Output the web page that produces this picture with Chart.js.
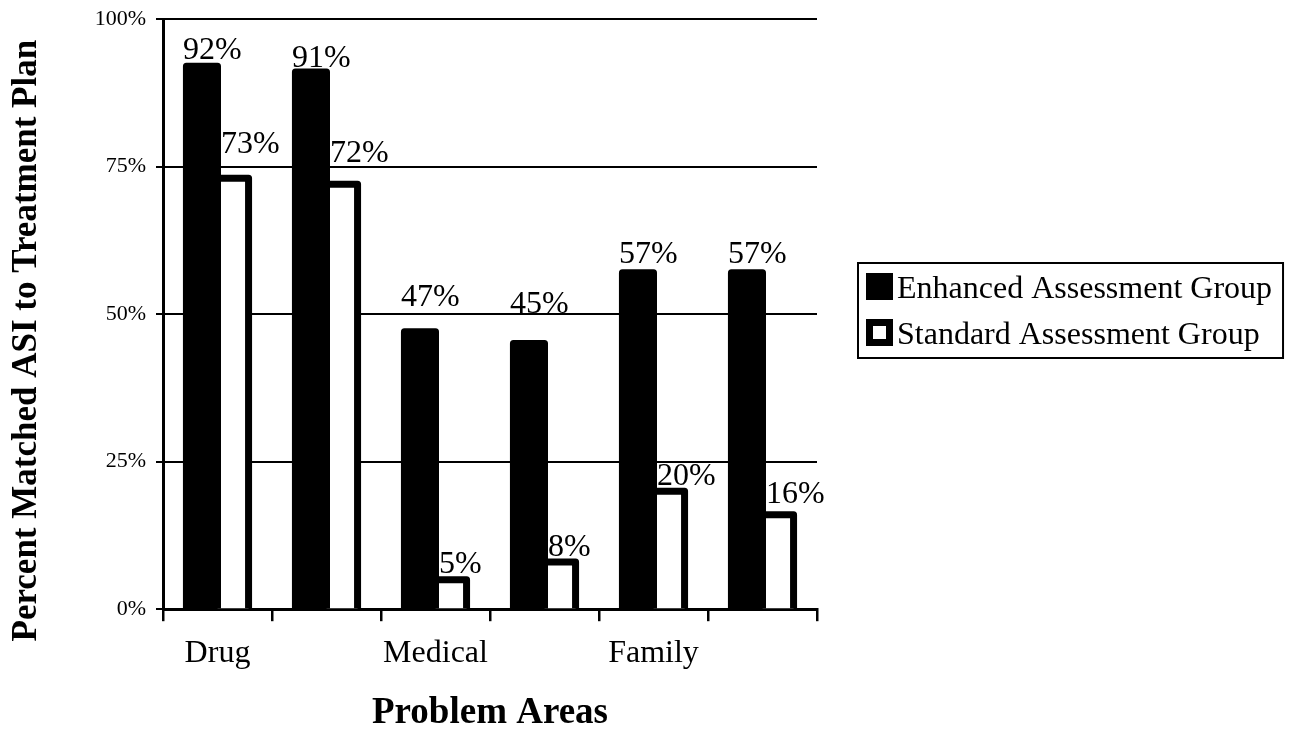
<!DOCTYPE html>
<html>
<head>
<meta charset="utf-8">
<title>Percent Matched ASI to Treatment Plan</title>
<script src="https://cdn.jsdelivr.net/npm/chart.js@4.4.1/dist/chart.umd.min.js"></script>
<style>
  html, body { margin: 0; padding: 0; background: #ffffff; }
  canvas { display: block; }
</style>
</head>
<body>
<canvas id="chart" width="1295" height="739"></canvas>
<script>
// ---- chart data ----
const categories = ['Drug', '', 'Medical', '', 'Family', ''];
const enhancedValues = [92, 91, 47, 45, 57, 57];
const standardValues = [73, 72, 5, 8, 20, 16];
const yTickValues = [0, 25, 50, 75, 100];
const seriesNames = ['Enhanced Assessment Group', 'Standard Assessment Group'];

// gap (px) between the top of each bar and the baseline of its value label
const enhancedLabelLift = [4, 2, 22, 27, 6, 6];
const standardLabelLift = [22, 19, 3, 2, 3, 8];

// ---- styling ----
const SERIF = "'Liberation Serif', 'Times New Roman', serif";
const OUTLINE = 7;          // bar outline, centred on the bar edges
const INK = '#000000';

// Outlines every bar (left, top, right edges) and writes its value above it.
const barDecor = {
  id: 'barDecor',
  afterDatasetsDraw(chart) {
    const ctx = chart.ctx;
    ctx.save();
    ctx.strokeStyle = INK;
    ctx.lineWidth = OUTLINE;
    ctx.lineJoin = 'round';
    ctx.lineCap = 'butt';
    chart.data.datasets.forEach((ds, di) => {
      chart.getDatasetMeta(di).data.forEach(bar => {
        const p = bar.getProps(['x', 'y', 'base', 'width'], true);
        const l = p.x - p.width / 2, r = p.x + p.width / 2;
        ctx.beginPath();
        ctx.moveTo(l, p.base);
        ctx.lineTo(l, p.y);
        ctx.lineTo(r, p.y);
        ctx.lineTo(r, p.base);
        ctx.stroke();
      });
    });
    ctx.fillStyle = INK;
    ctx.font = '32px ' + SERIF;
    ctx.textAlign = 'left';
    ctx.textBaseline = 'alphabetic';
    chart.data.datasets.forEach((ds, di) => {
      chart.getDatasetMeta(di).data.forEach((bar, i) => {
        const p = bar.getProps(['x', 'y', 'width'], true);
        const left = p.x - p.width / 2 + ds.labelInset;
        const top = p.y - OUTLINE / 2;
        ctx.fillText(ds.data[i] + '%', left, top - ds.labelLift[i]);
      });
    });
    ctx.restore();
  }
};

// Rotated y-axis title and the boxed legend on the right.
const frameText = {
  id: 'frameText',
  afterDraw(chart) {
    const ctx = chart.ctx;
    const area = chart.chartArea;

    // y-axis title
    ctx.save();
    ctx.fillStyle = INK;
    ctx.font = 'bold 35px ' + SERIF;
    ctx.textAlign = 'center';
    ctx.textBaseline = 'alphabetic';
    ctx.translate(36, area.top + (area.bottom - area.top) * 0.545);
    ctx.rotate(-Math.PI / 2);
    ctx.fillText('Percent Matched ASI to Treatment Plan', 0, 0);
    ctx.restore();

    // legend
    ctx.save();
    ctx.font = '32px ' + SERIF;
    const textW = Math.max(...chart.data.datasets.map(d => ctx.measureText(d.label).width));
    const boxLeft = area.right + 41;
    const boxTop = 263;
    const sq = 27, padL = 8, gap = 4, padR = 11, rowStep = 46, firstRow = 10;
    const boxW = padL + sq + gap + textW + padR;
    const boxH = 95;
    ctx.strokeStyle = INK;
    ctx.lineWidth = 2;
    ctx.strokeRect(boxLeft, boxTop, boxW, boxH);
    chart.data.datasets.forEach((ds, di) => {
      const sx = boxLeft + padL;
      const sy = boxTop + firstRow + di * rowStep;
      ctx.fillStyle = INK;
      ctx.fillRect(sx, sy, sq, sq);
      if (ds.backgroundColor !== INK) {
        ctx.fillStyle = ds.backgroundColor;
        ctx.fillRect(sx + 7, sy + 7, sq - 14, sq - 14);
      }
      ctx.fillStyle = INK;
      ctx.textAlign = 'left';
      ctx.textBaseline = 'alphabetic';
      ctx.fillText(ds.label, sx + sq + gap, sy + 24.5);
    });
    ctx.restore();
  }
};

new Chart(document.getElementById('chart'), {
  type: 'bar',
  data: {
    labels: categories,
    datasets: [
      {
        label: seriesNames[0],
        data: enhancedValues,
        backgroundColor: INK,
        borderWidth: 0,
        categoryPercentage: 0.57,
        barPercentage: 1.0,
        labelLift: enhancedLabelLift,
        labelInset: -OUTLINE / 2
      },
      {
        label: seriesNames[1],
        data: standardValues,
        backgroundColor: '#ffffff',
        borderWidth: 0,
        categoryPercentage: 0.57,
        barPercentage: 1.0,
        labelLift: standardLabelLift,
        labelInset: OUTLINE / 2
      }
    ]
  },
  options: {
    responsive: false,
    animation: false,
    devicePixelRatio: 1,
    layout: { padding: { top: 19, right: 478, bottom: 0, left: 0 } },
    plugins: {
      legend: { display: false },
      tooltip: { enabled: false }
    },
    scales: {
      x: {
        grid: {
          offset: true,
          drawOnChartArea: false,
          drawTicks: true,
          tickLength: 12,
          color: INK,
          tickColor: INK,
          lineWidth: 2.5,
          tickWidth: 2.5
        },
        border: { display: true, color: INK, width: 3 },
        ticks: {
          color: INK,
          font: { family: SERIF, size: 32 },
          padding: 13,
          maxRotation: 0,
          autoSkip: false
        },
        title: {
          display: true,
          text: 'Problem Areas',
          color: INK,
          font: { family: SERIF, size: 37, weight: 'bold' },
          padding: { top: 6, bottom: 3 }
        }
      },
      y: {
        min: 0,
        max: 100,
        afterBuildTicks: scale => { scale.ticks = yTickValues.map(v => ({ value: v })); },
        afterFit: scale => {
          scale.width = 163;
          scale.paddingTop = 0;
          scale.paddingBottom = 0;
        },
        grid: {
          color: INK,
          tickColor: INK,
          lineWidth: 2,
          tickWidth: 2,
          tickLength: 7,
          drawTicks: true
        },
        border: { display: true, color: INK, width: 3 },
        ticks: {
          color: INK,
          font: { family: SERIF, size: 22 },
          padding: 10,
          callback: v => v + '%'
        }
      }
    }
  },
  plugins: [barDecor, frameText]
});
</script>
</body>
</html>
